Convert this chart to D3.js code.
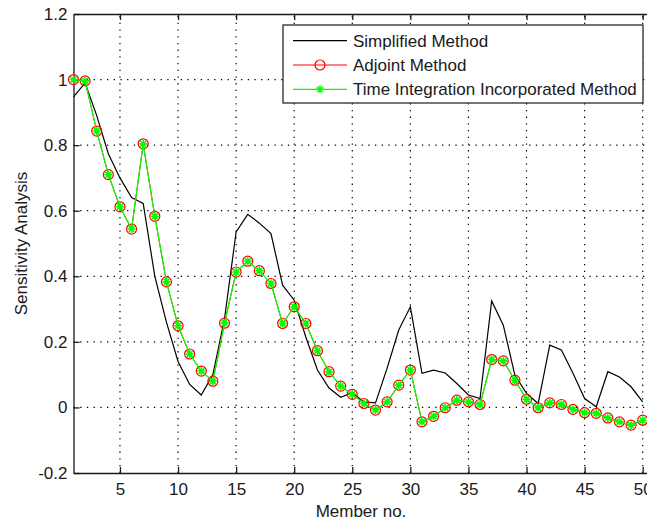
<!DOCTYPE html>
<html>
<head>
<meta charset="utf-8">
<script src="https://cdn.jsdelivr.net/npm/d3@7"></script>
<style>
  body { margin: 0; background: #fff; }
  svg { display: block; font-family: "Liberation Sans", Arial, sans-serif; }
</style>
</head>
<body>
<div id="chart"></div>
<script>
// Member numbers 1..50
const members = [
  1, 2, 3, 4, 5, 6, 7, 8, 9, 10, 11, 12, 13, 14, 15, 16, 17, 18, 19, 20,
  21, 22, 23, 24, 25, 26, 27, 28, 29, 30, 31, 32, 33, 34, 35, 36, 37, 38, 39, 40,
  41, 42, 43, 44, 45, 46, 47, 48, 49, 50
];

const simplified = [
  0.947, 0.99, 0.89, 0.774, 0.70, 0.64, 0.622, 0.40, 0.26, 0.14,
  0.07, 0.038, 0.10, 0.27, 0.535, 0.589, 0.562, 0.53, 0.373, 0.327,
  0.215, 0.114, 0.059, 0.031, 0.045, 0.017, 0.014, 0.12, 0.236, 0.307,
  0.104, 0.114, 0.105, 0.073, 0.038, 0.027, 0.325, 0.251, 0.098, 0.043,
  0.012, 0.19, 0.175, 0.104, 0.027, 0.002, 0.109, 0.093, 0.063, 0.017
];

const adjoint = [
  1.0, 0.996, 0.843, 0.71, 0.612, 0.544, 0.804, 0.583, 0.383, 0.249,
  0.163, 0.111, 0.08, 0.257, 0.413, 0.446, 0.417, 0.378, 0.256, 0.307,
  0.256, 0.173, 0.109, 0.065, 0.04, 0.012, -0.008, 0.017, 0.068, 0.114,
  -0.044, -0.027, -0.001, 0.022, 0.017, 0.009, 0.146, 0.142, 0.083, 0.025,
  -0.001, 0.014, 0.009, -0.006, -0.016, -0.018, -0.032, -0.044, -0.054, -0.039
];

const timeIntegration = [
  1.0, 0.996, 0.843, 0.71, 0.612, 0.544, 0.804, 0.583, 0.383, 0.249,
  0.163, 0.111, 0.08, 0.257, 0.413, 0.446, 0.417, 0.378, 0.256, 0.307,
  0.256, 0.173, 0.109, 0.065, 0.04, 0.012, -0.008, 0.017, 0.068, 0.114,
  -0.044, -0.027, -0.001, 0.022, 0.017, 0.009, 0.146, 0.142, 0.083, 0.025,
  -0.001, 0.014, 0.009, -0.006, -0.016, -0.018, -0.032, -0.044, -0.054, -0.039
];

const xTicks = [5, 10, 15, 20, 25, 30, 35, 40, 45, 50];
const yTicks = [-0.2, 0, 0.2, 0.4, 0.6, 0.8, 1, 1.2];
const yTickLabels = ["-0.2", "0", "0.2", "0.4", "0.6", "0.8", "1", "1.2"];

const seriesNames = ["Simplified Method", "Adjoint Method", "Time Integration Incorporated Method"];

const width = 647;
const height = 520;
const plot = { left: 73.5, top: 14, right: 654.3, bottom: 473 };

const svg = d3.select("#chart")
  .append("svg")
  .attr("width", width)
  .attr("height", height);

svg.append("rect").attr("width", width).attr("height", height).attr("fill", "#fff");

const x = d3.scaleLinear().domain([1, 51]).range([plot.left, plot.right]);
const y = d3.scaleLinear().domain([-0.2, 1.2]).range([plot.bottom, plot.top]);

// dotted grid
const grid = svg.append("g")
  .attr("stroke", "#000")
  .attr("stroke-width", 1.2)
  .attr("stroke-dasharray", "1.3,5.4");

grid.selectAll(".gx")
  .data(xTicks)
  .enter()
  .append("line")
  .attr("x1", (d) => x(d)).attr("x2", (d) => x(d))
  .attr("y1", plot.bottom).attr("y2", plot.top);

grid.selectAll(".gy")
  .data(yTicks.filter((d) => d > -0.2 && d < 1.2))
  .enter()
  .append("line")
  .attr("x1", plot.left).attr("x2", plot.right)
  .attr("y1", (d) => y(d)).attr("y2", (d) => y(d));

// axes (inward ticks, MATLAB box style)
const textColor = "#1a1a1a";

const xAxis = svg.append("g")
  .attr("transform", `translate(0,${plot.bottom})`)
  .call(d3.axisBottom(x).tickValues(xTicks).tickSize(-6).tickPadding(10).tickSizeOuter(0));

const xAxisTop = svg.append("g")
  .attr("transform", `translate(0,${plot.top})`)
  .call(d3.axisTop(x).tickValues(xTicks).tickSize(-6).tickFormat("").tickSizeOuter(0));

const yAxis = svg.append("g")
  .attr("transform", `translate(${plot.left},0)`)
  .call(d3.axisLeft(y).tickValues(yTicks).tickSize(-6).tickPadding(6)
    .tickFormat((d, i) => yTickLabels[i]).tickSizeOuter(0));

[xAxis, xAxisTop, yAxis].forEach((g) => {
  g.select(".domain").attr("stroke", "#1a1a1a").attr("stroke-width", 1.3);
  g.selectAll(".tick line").attr("stroke", "#1a1a1a").attr("stroke-width", 1.3);
  g.selectAll(".tick text")
    .attr("fill", textColor)
    .style("font-size", "17px")
    .style("font-family", "Liberation Sans, Arial, sans-serif");
});

svg.append("line")
  .attr("x1", plot.right).attr("x2", plot.right)
  .attr("y1", plot.top).attr("y2", plot.bottom)
  .attr("stroke", "#1a1a1a").attr("stroke-width", 1.3);

// axis labels
svg.append("text")
  .attr("x", 361)
  .attr("y", 517)
  .attr("text-anchor", "middle")
  .attr("fill", textColor)
  .style("font-size", "17px")
  .text("Member no.");

svg.append("text")
  .attr("transform", `translate(27,${(plot.top + plot.bottom) / 2}) rotate(-90)`)
  .attr("text-anchor", "middle")
  .attr("fill", textColor)
  .style("font-size", "17px")
  .text("Sensitivity Analysis");

// lines
const line = (values) => d3.line()
  .x((d, i) => x(members[i]))
  .y((d) => y(d))(values);

svg.append("path")
  .attr("d", line(simplified))
  .attr("fill", "none")
  .attr("stroke", "#000")
  .attr("stroke-width", 1.2);

svg.append("path")
  .attr("d", line(adjoint))
  .attr("fill", "none")
  .attr("stroke", "#ff0000")
  .attr("stroke-width", 1);

svg.selectAll(".circ")
  .data(adjoint)
  .enter()
  .append("circle")
  .attr("cx", (d, i) => x(members[i]))
  .attr("cy", (d) => y(d))
  .attr("r", 5)
  .attr("fill", "none")
  .attr("stroke", "#ff0000")
  .attr("stroke-width", 1.2);

svg.append("path")
  .attr("d", line(timeIntegration))
  .attr("fill", "none")
  .attr("stroke", "#00ff00")
  .attr("stroke-width", 1.2);

const starPath = (cx, cy, r) => {
  const k = r * 0.72;
  return `M${cx - r},${cy}H${cx + r}M${cx},${cy - r}V${cy + r}` +
    `M${cx - k},${cy - k}L${cx + k},${cy + k}M${cx - k},${cy + k}L${cx + k},${cy - k}`;
};

svg.selectAll(".star")
  .data(timeIntegration)
  .enter()
  .append("path")
  .attr("d", (d, i) => starPath(x(members[i]), y(d), 4))
  .attr("fill", "none")
  .attr("stroke", "#00ff00")
  .attr("stroke-width", 1.6);

// legend
const legend = svg.append("g");
legend.append("rect")
  .attr("x", 283)
  .attr("y", 25)
  .attr("width", 360)
  .attr("height", 78)
  .attr("fill", "#fff")
  .attr("stroke", "#1a1a1a")
  .attr("stroke-width", 1.2);

const legendColors = ["#000", "#ff0000", "#00ff00"];
seriesNames.forEach((name, i) => {
  const ly = 40.7 + i * 24.3;
  legend.append("line")
    .attr("x1", 293).attr("x2", 347)
    .attr("y1", ly).attr("y2", ly)
    .attr("stroke", legendColors[i])
    .attr("stroke-width", 1.2);
  if (i === 1) {
    legend.append("circle")
      .attr("cx", 320).attr("cy", ly).attr("r", 5)
      .attr("fill", "none").attr("stroke", "#ff0000").attr("stroke-width", 1.2);
  }
  if (i === 2) {
    legend.append("path")
      .attr("d", starPath(320, ly, 4))
      .attr("stroke", "#00ff00").attr("stroke-width", 1.4);
  }
  legend.append("text")
    .attr("x", 353)
    .attr("y", ly)
    .attr("dy", "0.35em")
    .attr("fill", textColor)
    .style("font-size", "17px")
    .text(name);
});
</script>
</body>
</html>
